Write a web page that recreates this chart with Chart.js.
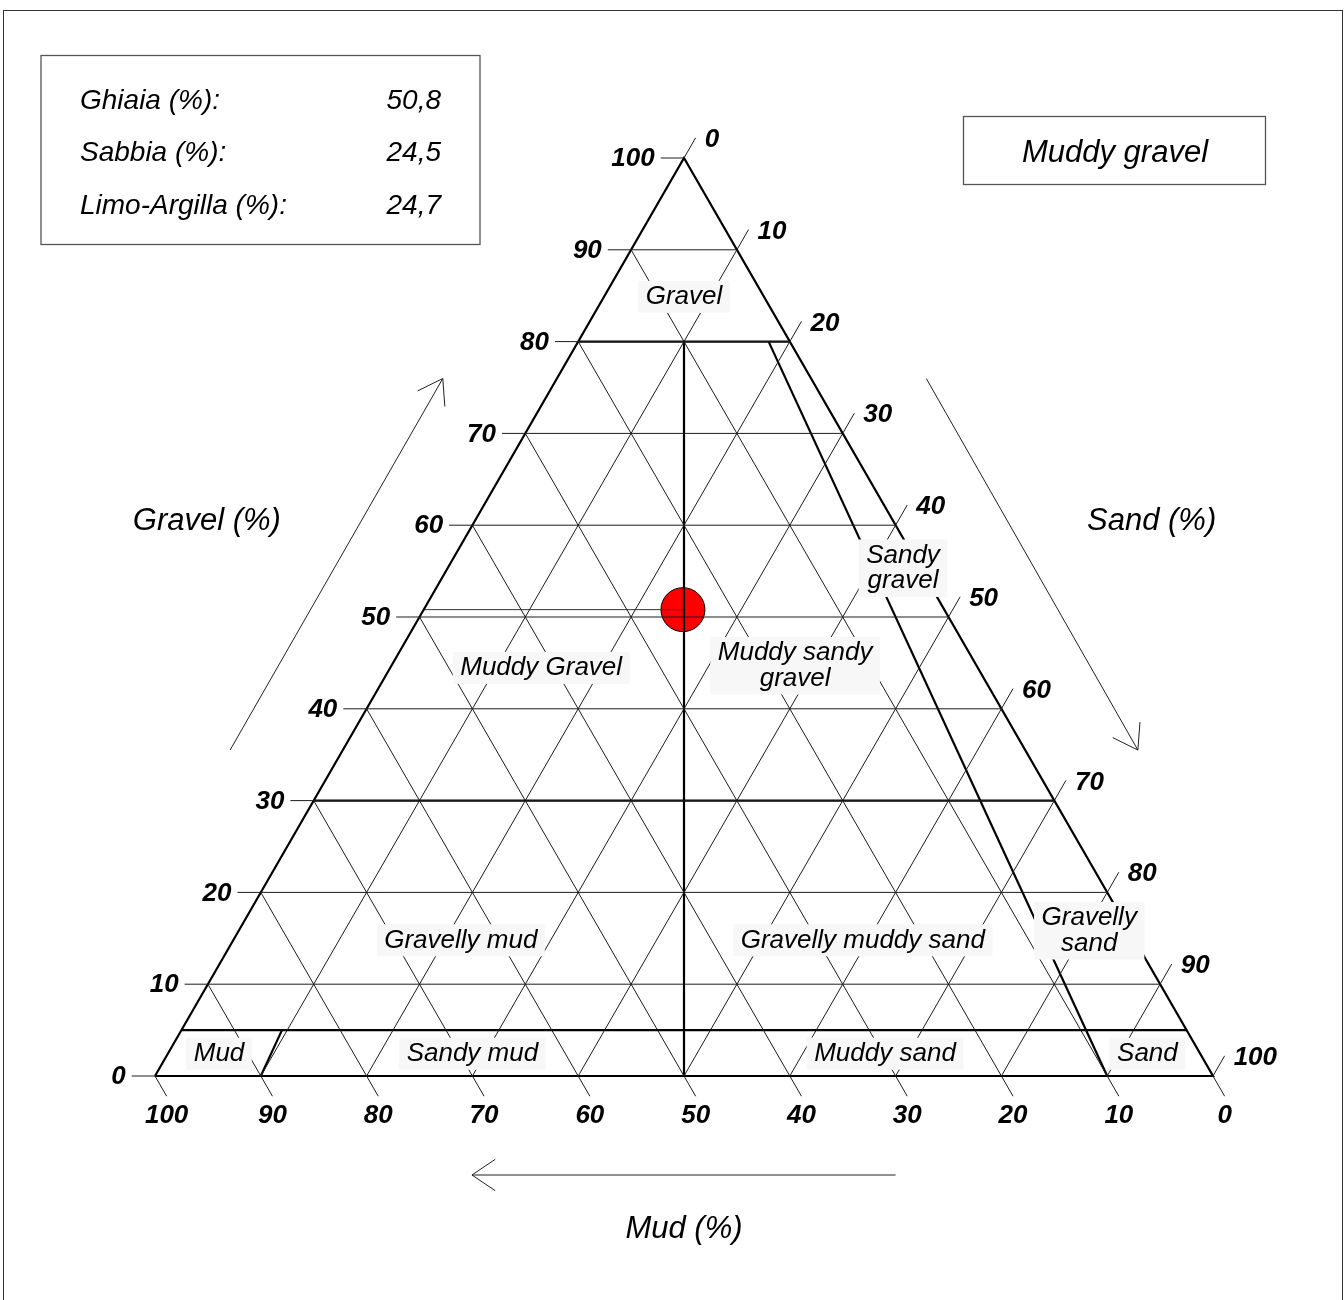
<!DOCTYPE html>
<html>
<head>
<meta charset="utf-8">
<script src="https://cdn.jsdelivr.net/npm/chart.js@4.4.1/dist/chart.umd.min.js"></script>
<style>
html, body { margin: 0; padding: 0; background: #fff; }
#wrap { position: relative; width: 1344px; height: 1300px; }
canvas { display: block; }
</style>
</head>
<body>
<div id="wrap"><canvas id="c" width="1344" height="1300"></canvas></div>
<script>
// ---- sample composition (gravel, sand, mud) ----
const sampleLabels = ['Ghiaia (%):', 'Sabbia (%):', 'Limo-Argilla (%):'];
const sampleValues = [50.8, 24.5, 24.7];
const sampleClass = 'Muddy gravel';

// ---- axes ----
const tickValues = [0, 10, 20, 30, 40, 50, 60, 70, 80, 90, 100];
const gridLevels = [10, 20, 30, 40, 50, 60, 70, 80, 90];
const axisTitles = ['Gravel (%)', 'Sand (%)', 'Mud (%)'];

// ---- Folk class boundaries ----
const gravelLimits = [80, 30, 5];          // horizontal class limits (% gravel)
const sandShareLines = [10, 50, 90];       // sand / (sand + mud) ratio lines (%)
const sandShareTop = [5, 80, 80];          // gravel % where each ratio line stops

// ---- class names ----
const regionNames = [
  'Gravel', 'Sandy\ngravel', 'Muddy Gravel', 'Muddy sandy\ngravel',
  'Gravelly mud', 'Gravelly muddy sand', 'Gravelly\nsand',
  'Mud', 'Sandy mud', 'Muddy sand', 'Sand'
];
// label anchors in plot units (x: 0..100 along the base, y: height)
const regionAnchors = [
  [50.0, 73.5], [70.7, 47.9], [36.5, 38.5], [60.5, 38.7],
  [28.9, 12.8], [66.9, 12.8], [88.3, 13.7],
  [6.05, 2.1], [30.0, 2.1], [69.0, 2.1], [93.8, 2.1]
];
const titleAnchors = [[4.9, 52.3], [94.2, 52.3], [50.0, -14.5]];
const arrowPaths = [
  [[7.1, 30.75], [27.2, 65.8]],
  [[72.9, 65.8], [92.9, 30.75]],
  [[70.0, -9.34], [29.96, -9.34]]
];

const SQ = Math.sqrt(3) / 2;
const TICK = 2.2;
const FONT = '"Liberation Sans", Arial, sans-serif';

// ternary (gravel, sand) -> plot coordinates
function tern(g, s) { return { x: s + g / 2, y: g * SQ }; }

function seg(points, width, color) {
  return {
    data: points, showLine: true, borderColor: color, borderWidth: width,
    pointRadius: 0, pointHoverRadius: 0, fill: false, tension: 0, clip: false
  };
}

const datasets = [];
const THIN = '#1c1c1c';

// grid: constant gravel, constant sand, constant mud
gridLevels.forEach(g => datasets.push(seg([tern(g, 0), tern(g, 100 - g)], 1, THIN)));
gridLevels.forEach(s => datasets.push(seg([tern(0, s), tern(100 - s, s)], 1, THIN)));
gridLevels.forEach(m => datasets.push(seg([tern(0, 100 - m), tern(100 - m, 0)], 1, THIN)));

// tick marks
const tickEnds = { gravel: [], sand: [], mud: [] };
tickValues.forEach(v => {
  const b = tern(v, 0);
  const e = { x: b.x - TICK, y: b.y };
  tickEnds.gravel.push(e);
  datasets.push(seg([b, e], 1, THIN));
});
tickValues.forEach(v => {
  const b = tern(100 - v, v);
  const e = { x: b.x + TICK * 0.5, y: b.y + TICK * SQ };
  tickEnds.sand.push(e);
  datasets.push(seg([b, e], 1, THIN));
});
tickValues.forEach(v => {
  const b = tern(0, 100 - v);
  const e = { x: b.x + TICK * 0.5, y: b.y - TICK * SQ };
  tickEnds.mud.push(e);
  datasets.push(seg([b, e], 1, THIN));
});

// class boundaries
gravelLimits.forEach(g => datasets.push(seg([tern(g, 0), tern(g, 100 - g)], 2.2, '#000')));
sandShareLines.forEach((r, i) => {
  const top = sandShareTop[i];
  datasets.push(seg([tern(0, r), tern(top, r * (100 - top) / 100)], 2.2, '#000'));
});
// triangle outline
datasets.push(Object.assign(seg([tern(0, 0), tern(100, 0), tern(0, 100), tern(0, 0)], 2.2, '#000'),
  { borderJoinStyle: 'miter' }));

// direction arrows
arrowPaths.forEach(p => {
  const a = { x: p[0][0], y: p[0][1] }, b = { x: p[1][0], y: p[1][1] };
  datasets.push(seg([a, b], 1, '#222'));
  const ang = Math.atan2(a.y - b.y, a.x - b.x);
  const L = 2.65, w = 34 * Math.PI / 180;
  datasets.push(seg([
    { x: b.x + L * Math.cos(ang + w), y: b.y + L * Math.sin(ang + w) },
    b,
    { x: b.x + L * Math.cos(ang - w), y: b.y + L * Math.sin(ang - w) }
  ], 1, '#222'));
});

// sample: reference line to the gravel axis and the point
const sg = sampleValues[0], ss = sampleValues[1];
datasets.push(seg([tern(sg, 0), tern(sg, ss)], 1, '#333'));
datasets.push({
  data: [tern(sg, ss)], showLine: false, pointRadius: 22, pointHoverRadius: 22,
  backgroundColor: '#ff0000', borderColor: '#000', borderWidth: 1, clip: false
});

function fmt(v) { return v.toFixed(1).replace('.', ','); }

const decor = {
  id: 'decor',
  beforeDraw(chart) {
    const ctx = chart.ctx;
    ctx.save();
    ctx.fillStyle = '#fff';
    ctx.fillRect(0, 0, chart.width, chart.height);
    // page frame
    ctx.strokeStyle = '#333';
    ctx.lineWidth = 1;
    ctx.strokeRect(3.5, 10.5, 1339, 1300);
    ctx.restore();
  },
  afterDatasetsDraw(chart) {
    const { ctx, scales: { x, y } } = chart;
    const P = (px, py) => [x.getPixelForValue(px), y.getPixelForValue(py)];
    ctx.save();

    // class labels on light boxes
    ctx.font = 'italic 26px ' + FONT;
    ctx.textAlign = 'center';
    ctx.textBaseline = 'middle';
    const LH = 25.5;
    regionNames.forEach((name, i) => {
      const lines = name.split('\n');
      const [cx, cy] = P(regionAnchors[i][0], regionAnchors[i][1]);
      const w = Math.max(...lines.map(l => ctx.measureText(l).width)) + 15;
      const h = lines.length * LH + 6.5;
      ctx.fillStyle = '#f7f7f7';
      ctx.fillRect(cx - w / 2, cy - h / 2, w, h);
      ctx.fillStyle = '#000';
      lines.forEach((l, k) => {
        ctx.fillText(l, cx, cy + (k - (lines.length - 1) / 2) * LH);
      });
    });

    // tick labels
    ctx.font = 'italic bold 26px ' + FONT;
    ctx.fillStyle = '#000';
    ctx.textBaseline = 'middle';
    ctx.textAlign = 'right';
    tickValues.forEach((v, i) => {
      const [px, py] = P(tickEnds.gravel[i].x, tickEnds.gravel[i].y);
      ctx.fillText(String(v), px - 6, py + 1);
    });
    ctx.textAlign = 'left';
    tickValues.forEach((v, i) => {
      const [px, py] = P(tickEnds.sand[i].x, tickEnds.sand[i].y);
      ctx.fillText(String(v), px + 9, py + 2);
    });
    ctx.textAlign = 'center';
    tickValues.forEach((v, i) => {
      const [px, py] = P(tickEnds.mud[i].x, tickEnds.mud[i].y);
      ctx.fillText(String(v), px, py + 20);
    });

    // axis titles
    ctx.font = 'italic 31px ' + FONT;
    axisTitles.forEach((t, i) => {
      const [px, py] = P(titleAnchors[i][0], titleAnchors[i][1]);
      ctx.fillText(t, px, py);
    });

    // composition box
    ctx.strokeStyle = '#555';
    ctx.lineWidth = 1.3;
    ctx.strokeRect(41, 55.5, 439, 189);
    ctx.font = 'italic 28px ' + FONT;
    sampleLabels.forEach((lab, i) => {
      const yy = 101 + i * 52.5;
      ctx.textAlign = 'left';
      ctx.fillText(lab, 80, yy);
      ctx.textAlign = 'right';
      ctx.fillText(fmt(sampleValues[i]), 441, yy);
    });

    // class result box
    ctx.strokeRect(963.5, 116.5, 302, 68);
    ctx.font = 'italic 31px ' + FONT;
    ctx.textAlign = 'center';
    ctx.fillText(sampleClass, 1115, 153);
    ctx.restore();
  }
};

new Chart(document.getElementById('c'), {
  type: 'scatter',
  data: { datasets },
  options: {
    responsive: false,
    animation: false,
    devicePixelRatio: 1,
    events: [],
    layout: { padding: { left: 155, right: 131, top: 158, bottom: 224 } },
    scales: {
      x: { type: 'linear', min: 0, max: 100, display: false },
      y: { type: 'linear', min: 0, max: 100 * SQ, display: false }
    },
    plugins: { legend: { display: false }, tooltip: { enabled: false } }
  },
  plugins: [decor]
});
</script>
</body>
</html>
